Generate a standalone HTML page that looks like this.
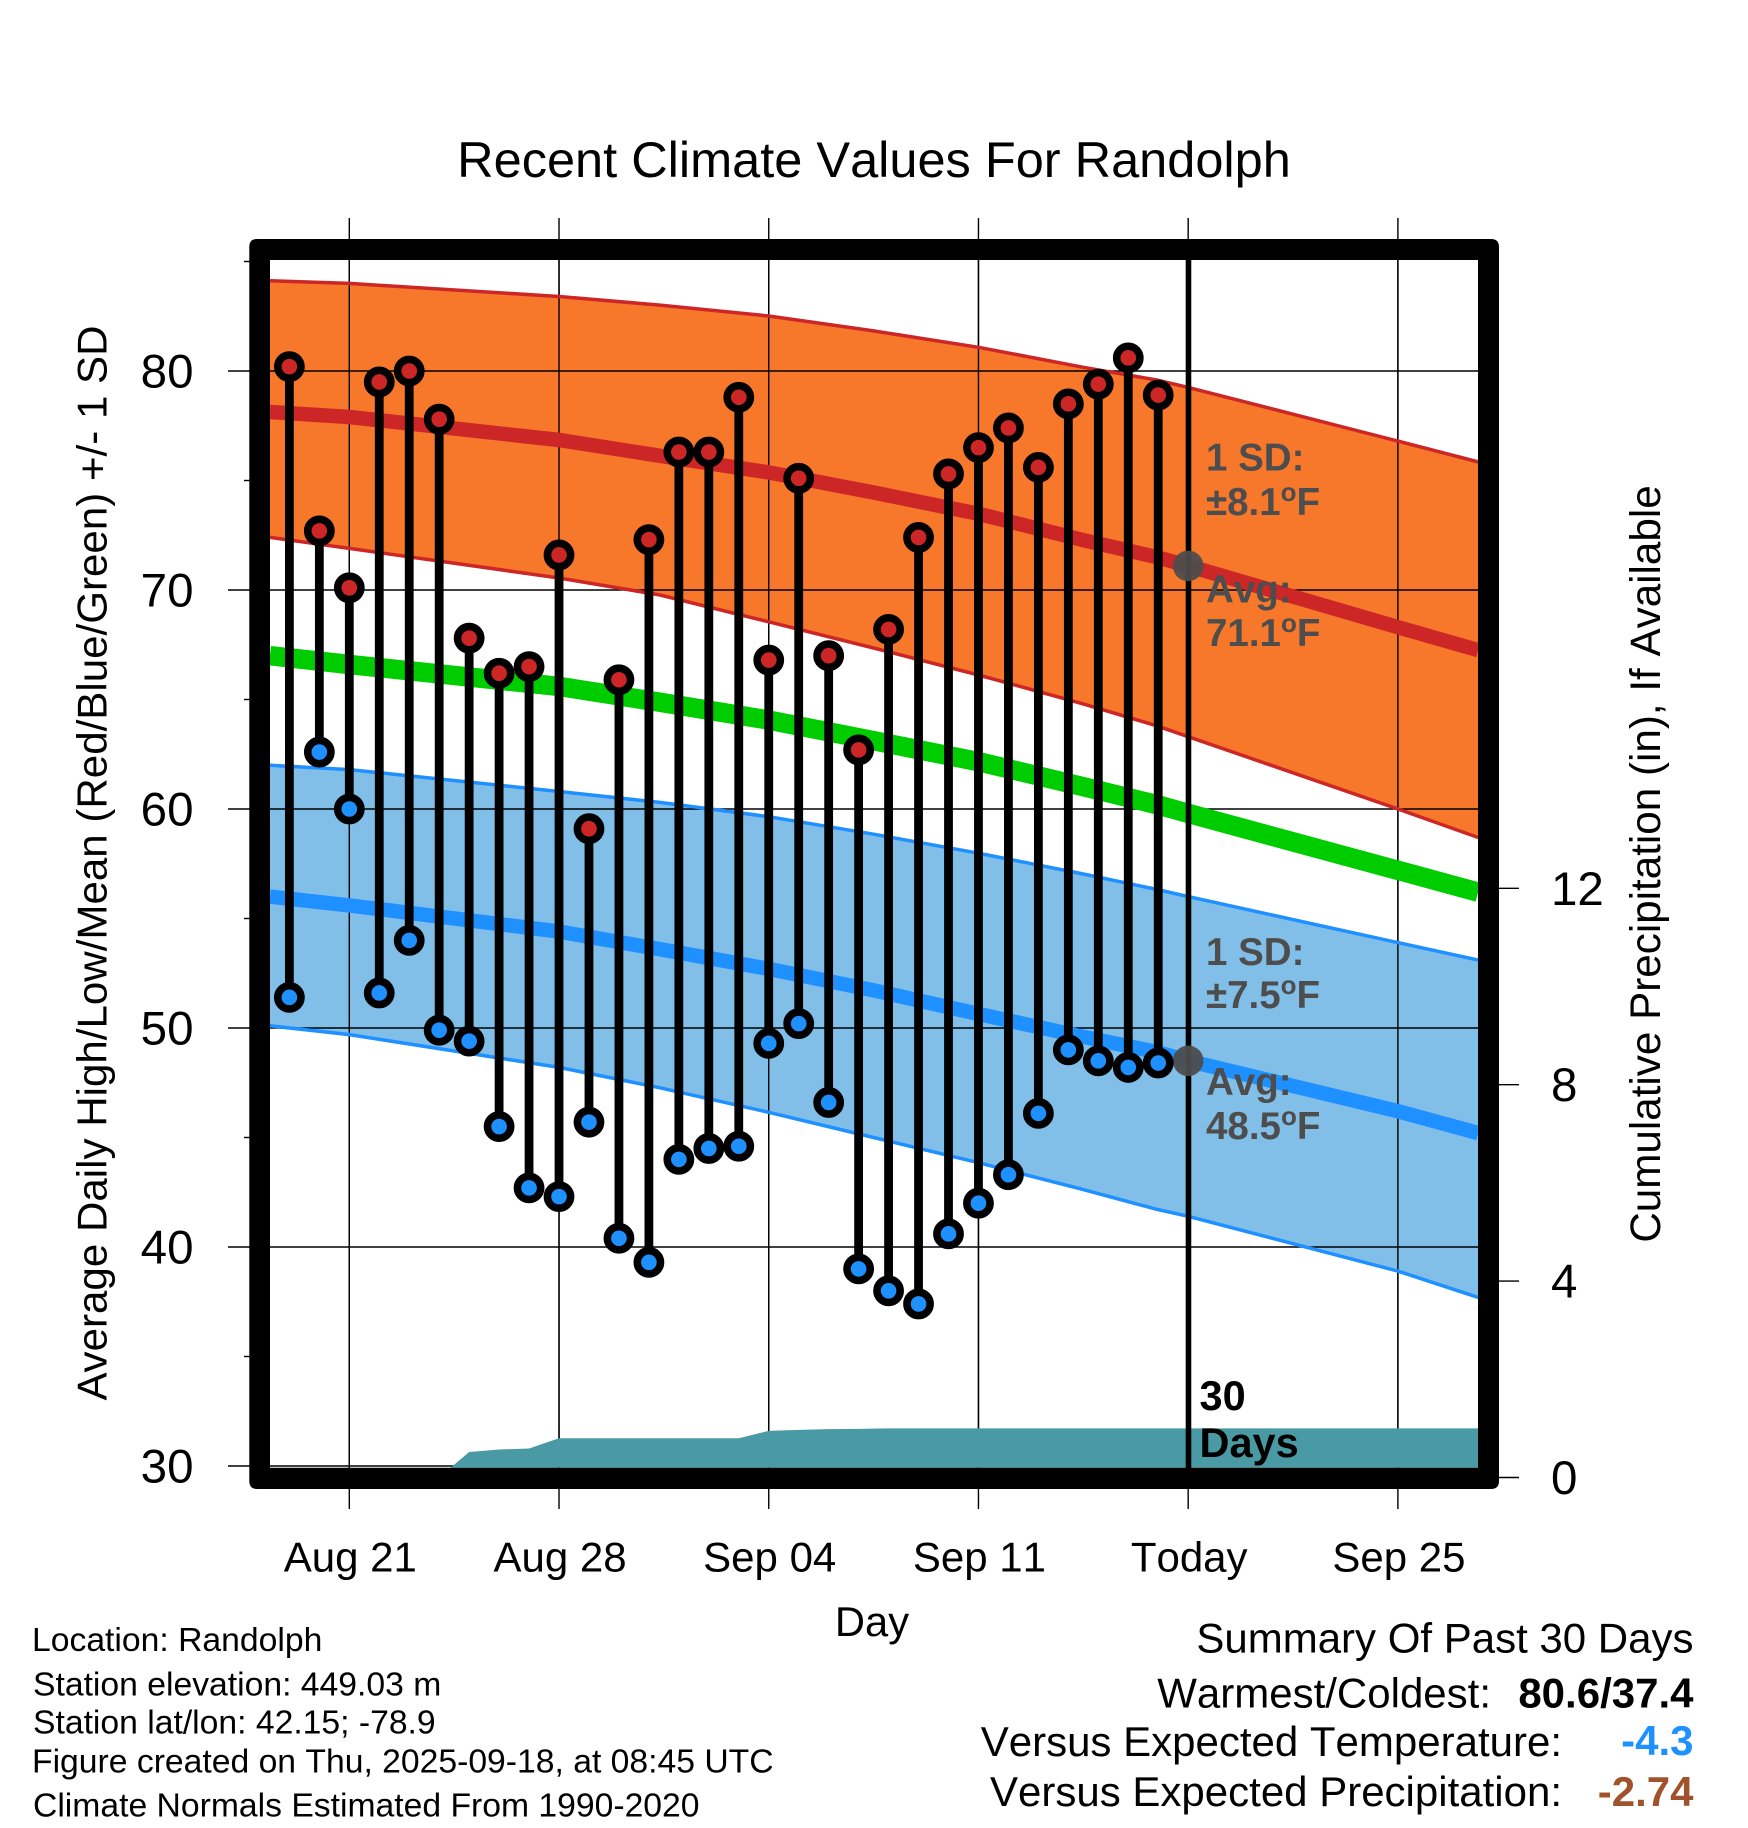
<!DOCTYPE html>
<html lang="en">
<head>
<meta charset="utf-8">
<title>Recent Climate Values For Randolph</title>
<style>
html,body{margin:0;padding:0;background:#fff;}
svg{display:block;}
text{font-family:"Liberation Sans",Arial,sans-serif;font-kerning:none;}
</style>
</head>
<body>
<svg id="chart" xmlns="http://www.w3.org/2000/svg" width="1748" height="1828" viewBox="0 0 1748 1828">
  <defs>
    <clipPath id="plot-clip"><rect x="270" y="260" width="1208" height="1207.7"/></clipPath>
  </defs>
  <rect x="0" y="0" width="1748" height="1828" fill="#fff"/>
  <g id="grid-layer"></g>
  <g id="fill-layer" clip-path="url(#plot-clip)"></g>
  <g id="inner-grid-layer" clip-path="url(#plot-clip)"></g>
  <g id="line-layer" clip-path="url(#plot-clip)"></g>
  <g id="precip-layer" clip-path="url(#plot-clip)"></g>
  <g id="today-layer"></g>
  <g id="stem-layer"></g>
  <g id="marker-layer"></g>
  <path fill-rule="evenodd" fill="#000" d="M257,239 H1491 Q1499,239 1499,247 V1481 Q1499,1489 1491,1489 H257 Q249.3,1489 249.3,1481 V247 Q249.3,239 257,239 Z M270,260 V1467.7 H1478 V260 Z"/>
  <g id="label-layer" fill="#000"></g>

  <text x="874" y="177" font-size="50.5" text-anchor="middle">Recent Climate Values For Randolph</text>
  <text x="872" y="1636" font-size="41.7" text-anchor="middle">Day</text>
  <text transform="translate(106.7,863) rotate(-90)" font-size="42.1" text-anchor="middle">Average Daily High/Low/Mean (Red/Blue/Green) +/- 1 SD</text>
  <text transform="translate(1660,864) rotate(-90)" font-size="42.2" text-anchor="middle">Cumulative Precipitation (in), If Available</text>

  <g font-size="38.5" font-weight="bold" fill="#4d4d4d">
    <text x="1206" y="470.7">1 SD:</text>
    <text x="1206" y="515">±8.1<tspan font-size="26" dy="-14">o</tspan><tspan dy="14">F</tspan></text>
    <text x="1206" y="602.7">Avg:</text>
    <text x="1206" y="646">71.1<tspan font-size="26" dy="-14">o</tspan><tspan dy="14">F</tspan></text>
  </g>
  <g font-size="38.5" font-weight="bold" fill="#4d4d4d">
    <text x="1206" y="965">1 SD:</text>
    <text x="1206" y="1008">±7.5<tspan font-size="26" dy="-14">o</tspan><tspan dy="14">F</tspan></text>
    <text x="1206" y="1095">Avg:</text>
    <text x="1206" y="1139">48.5<tspan font-size="26" dy="-14">o</tspan><tspan dy="14">F</tspan></text>
  </g>
  <g font-size="41.5" font-weight="bold" fill="#000">
    <text x="1199.5" y="1410">30</text>
    <text x="1199.5" y="1457">Days</text>
  </g>

  <g font-size="33.7" fill="#000">
    <text x="32" y="1651">Location: Randolph</text>
    <text x="33" y="1695.5">Station elevation: 449.03 m</text>
    <text x="33" y="1733.5">Station lat/lon: 42.15; -78.9</text>
    <text x="32" y="1772.5">Figure created on Thu, 2025-09-18, at 08:45 UTC</text>
    <text x="33" y="1816.5">Climate Normals Estimated From 1990-2020</text>
  </g>

  <g font-size="42" fill="#000">
    <text x="1693.5" y="1652.5" text-anchor="end">Summary Of Past 30 Days</text>
    <text x="1491" y="1707.5" text-anchor="end">Warmest/Coldest:</text>
    <text x="1693.5" y="1707.5" text-anchor="end" font-weight="bold">80.6/37.4</text>
    <text x="1562" y="1756" text-anchor="end">Versus Expected Temperature:</text>
    <text x="1693.5" y="1755" text-anchor="end" font-weight="bold" fill="#1e90ff">-4.3</text>
    <text x="1562" y="1806" text-anchor="end">Versus Expected Precipitation:</text>
    <text x="1693.5" y="1806" text-anchor="end" font-weight="bold" fill="#a0522d">-2.74</text>
  </g>
</svg>
<script>
// ---- data ----
const dayOffsets = [-2,-1,0,1,2,3,4,5,6,7,8,9,10,11,12,13,14,15,16,17,18,19,20,21,22,23,24,25,26,27];
const dailyHigh = [80.2,72.7,70.1,79.5,80.0,77.8,67.8,66.2,66.5,71.6,59.1,65.9,72.3,76.3,76.3,78.8,66.8,75.1,67.0,62.7,68.2,72.4,75.3,76.5,77.4,75.6,78.5,79.4,80.6,78.9];
const dailyLow = [51.4,62.6,60.0,51.6,54.0,49.9,49.4,45.5,42.7,42.3,45.7,40.4,39.3,44.0,44.5,44.6,49.3,50.2,46.6,39.0,38.0,37.4,40.6,42.0,43.3,46.1,49.0,48.5,48.2,48.4];
const dailyPrecip = [0,0,0,0,0,0,0.52,0.57,0.59,0.80,0.80,0.80,0.80,0.80,0.80,0.80,0.95,0.97,0.985,0.99,1.0,1.0,1.0,1.0,1.0,1.0,1.0,1.0,1.0,1.0];
const normalDays = [-2.65,0,7,10.37,14,17.5,21,24.5,26.95,28,35,37.68];
const highUpper = [84.12,84.0,83.4,83.01,82.51,81.83,81.08,80.17,79.59,79.25,76.8,75.85];
const highMean = [78.13,77.9,76.85,76.13,75.37,74.45,73.48,72.28,71.5,71.1,68.3,67.25];
const highLower = [72.4,71.9,70.55,69.77,68.55,67.35,66.12,64.8,63.8,63.3,60.0,58.7];
const overallMean = [67.0,66.6,65.6,64.87,64.06,63.12,62.16,61.02,60.2,59.8,57.2,56.2];
const lowUpper = [62.0,61.8,60.8,60.3,59.65,58.85,57.98,57.03,56.33,56.0,53.9,53.1];
const lowMean = [56.0,55.6,54.4,53.6,52.7,51.72,50.64,49.6,48.9,48.5,46.2,45.2];
const lowLower = [50.1,49.7,48.2,47.27,46.15,45.0,43.85,42.62,41.72,41.4,38.9,37.7];
const xTickDays = [0,7,14,21,28,35];
const xTickLabels = ["Aug 21","Aug 28","Sep 04","Sep 11","Today","Sep 25"];
const yMajorTicks = [30,40,50,60,70,80];
const yMinorTicks = [35,45,55,65,75,85];
const precipTicks = [0,4,8,12];
const todayDay = 28;
const todayHighMean = 71.1;
const todayLowMean = 48.5;
const lastDay = 37.68;

// ---- axis functions ----
function xScale(day){ return 349.3 + day * 29.96; }
function yScale(temp){ return 371 + (80 - temp) * 21.9; }
function yPrecip(inches){ return 1477.5 - inches * 49.1; }

const NS = 'http://www.w3.org/2000/svg';
function make(parent, tag, attrs, content){
  const node = document.createElementNS(NS, tag);
  for (const key in attrs) node.setAttribute(key, attrs[key]);
  if (content !== undefined) node.textContent = content;
  document.getElementById(parent).appendChild(node);
  return node;
}
function linePoints(values){
  return normalDays.map((d,i)=>xScale(d).toFixed(1)+','+yScale(values[i]).toFixed(1)).join(' ');
}
function bandPoints(top,bottom){
  const up = normalDays.map((d,i)=>xScale(d).toFixed(1)+','+yScale(top[i]).toFixed(1));
  const down = normalDays.map((d,i)=>xScale(d).toFixed(1)+','+yScale(bottom[i]).toFixed(1)).reverse();
  return up.concat(down).join(' ');
}
let el;

// bands
el = make('fill-layer','polygon',{points:bandPoints(highUpper,highLower),fill:'#f7782b'});


el = make('fill-layer','polygon',{points:bandPoints(lowUpper,lowLower),fill:'#82bfe8'});



// gridlines and ticks outside the frame
xTickDays.forEach(function(d,i){
  el = make('grid-layer','line',{x1:xScale(d),x2:xScale(d),y1:218,y2:1509,stroke:'#000','stroke-width':1.4});
  
  
  el = make('inner-grid-layer','line',{x1:xScale(d),x2:xScale(d),y1:260,y2:1468,stroke:'#000','stroke-width':1.4});
  
  
  el = make('label-layer','text',{x:xScale(d)+1,y:1571.5,'font-size':42,'text-anchor':'middle'},xTickLabels[i]);
  
  
});
yMajorTicks.forEach(function(v){
  el = make('grid-layer','line',{x1:228,x2:260,y1:yScale(v),y2:yScale(v),stroke:'#000','stroke-width':1.6});
  
  
  el = make('inner-grid-layer','line',{x1:260,x2:1478,y1:yScale(v),y2:yScale(v),stroke:'#000','stroke-width':1.6});
  
  
  el = make('label-layer','text',{x:193.5,y:yScale(v)+16.5,'font-size':47.5,'text-anchor':'end'},String(v));
  
  
});
yMinorTicks.forEach(function(v){
  el = make('grid-layer','line',{x1:244,x2:255,y1:yScale(v),y2:yScale(v),stroke:'#000','stroke-width':1.4});
  
  
});
precipTicks.forEach(function(v){
  el = make('grid-layer','line',{x1:1490,x2:1519,y1:yPrecip(v),y2:yPrecip(v),stroke:'#000','stroke-width':1.4});
  
  
  el = make('label-layer','text',{x:1551,y:yPrecip(v)+16.5,'font-size':47.5},String(v));
  
  
});

// normal lines
el = make('line-layer','polyline',{points:linePoints(highUpper),fill:'none',stroke:'#cd2626','stroke-width':3.5});


el = make('line-layer','polyline',{points:linePoints(highLower),fill:'none',stroke:'#cd2626','stroke-width':3.5});


el = make('line-layer','polyline',{points:linePoints(lowUpper),fill:'none',stroke:'#1e90ff','stroke-width':3.5});


el = make('line-layer','polyline',{points:linePoints(lowLower),fill:'none',stroke:'#1e90ff','stroke-width':3.5});


el = make('line-layer','polyline',{points:linePoints(highMean),fill:'none',stroke:'#cd2626','stroke-width':14.5});


el = make('line-layer','polyline',{points:linePoints(overallMean),fill:'none',stroke:'#00cd00','stroke-width':19.5});


el = make('line-layer','polyline',{points:linePoints(lowMean),fill:'none',stroke:'#1e90ff','stroke-width':14.5});



// cumulative precipitation
const precipLine = dayOffsets.map((d,i)=>xScale(d).toFixed(1)+','+yPrecip(dailyPrecip[i]).toFixed(1));
const precipPoints = [xScale(dayOffsets[0]).toFixed(1)+','+yPrecip(0)].concat(precipLine,[
  xScale(lastDay).toFixed(1)+','+yPrecip(dailyPrecip[dailyPrecip.length-1]).toFixed(1),
  xScale(lastDay).toFixed(1)+','+yPrecip(0)
]).join(' ');
el = make('precip-layer','polygon',{points:precipPoints,fill:'#4a9aa5'});



// today marker
el = make('today-layer','line',{x1:xScale(todayDay)+0.3,x2:xScale(todayDay)+0.3,y1:260,y2:1468,stroke:'#000','stroke-width':5.6});


el = make('today-layer','circle',{cx:xScale(todayDay),cy:yScale(todayHighMean),r:15.3,fill:'#4d4d4d','fill-opacity':0.94});


el = make('today-layer','circle',{cx:xScale(todayDay),cy:yScale(todayLowMean),r:15.3,fill:'#4d4d4d','fill-opacity':0.94});



// daily stems and markers
dayOffsets.forEach(function(d,i){
  el = make('stem-layer','line',{x1:xScale(d),x2:xScale(d),y1:yScale(dailyHigh[i]),y2:yScale(dailyLow[i]),stroke:'#000','stroke-width':8.8});
  
  
  el = make('marker-layer','circle',{cx:xScale(d),cy:yScale(dailyHigh[i]),r:11.6,fill:'#cd2626',stroke:'#000','stroke-width':7.6});
  
  
  el = make('marker-layer','circle',{cx:xScale(d),cy:yScale(dailyLow[i]),r:11.6,fill:'#1e90ff',stroke:'#000','stroke-width':7.6});
  
  
});
</script>
</body>
</html>
